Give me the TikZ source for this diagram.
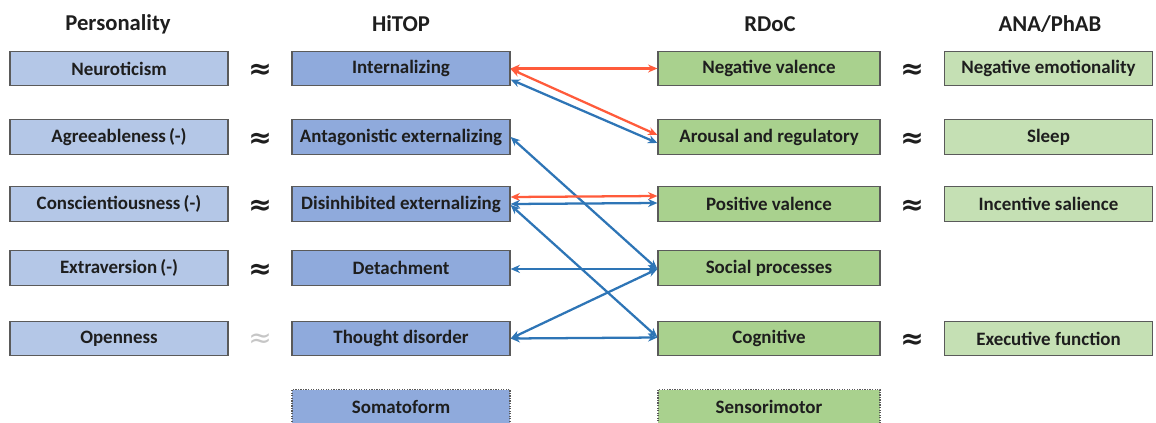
\documentclass[tikz,border=0pt]{standalone}
\usepackage{fontspec}
\setmainfont{Carlito}
\newfontfamily\symfont{DejaVu Sans}
\usetikzlibrary{arrows.meta}
\definecolor{pcol}{HTML}{B4C7E7}
\definecolor{hcol}{HTML}{8FAADC}
\definecolor{rcol}{HTML}{A9D18E}
\definecolor{acol}{HTML}{C5E0B4}
\definecolor{bordercol}{HTML}{5A5A5A}
\definecolor{bluearr}{HTML}{2E75B6}
\definecolor{redarr}{HTML}{FF5B3B}
\definecolor{txt}{HTML}{1E1E1E}
\tikzset{
  box/.style={draw=bordercol, line width=0.9pt, minimum height=26pt, inner sep=0pt, font=\fontsize{14.2}{16}\selectfont\bfseries, text=txt},
  pbox/.style={box, fill=pcol, minimum width=163.5pt},
  hbox/.style={box, fill=hcol, minimum width=163.5pt},
  rbox/.style={box, fill=rcol, minimum width=166.5pt},
  abox/.style={box, fill=acol, minimum width=156.5pt},
  dotbox/.style={draw=bordercol, densely dotted, line width=0.9pt},
  header/.style={font=\fontsize{17}{20}\selectfont\bfseries, text=txt},
  approx/.style={font=\symfont\fontsize{21}{24}\selectfont\bfseries, text=txt},
  barr/.style={draw=bluearr, line width=1.7pt, {Stealth[length=7pt,width=6pt]}-{Stealth[length=7pt,width=6pt]}},
  rarr/.style={draw=redarr, line width=1.7pt, {Stealth[length=7pt,width=6pt]}-{Stealth[length=7pt,width=6pt]}}
}
\begin{document}
\begin{tikzpicture}[x=0.75pt,y=-0.75pt]
\useasboundingbox (0,0) rectangle (1156,422);
% headers
\node[header] (hp) at (118,24) {Personality};
\node[header] (hh) at (401,24) {HiTOP};
\node[header] (hr) at (770,24) {RDoC};
\node[header] (ha) at (1050,24) {ANA/PhAB};
% personality
\node[pbox] (neu) at (119,68.5) {Neuroticism};
\node[pbox] (agr) at (119,137) {Agreeableness\,(-)};
\node[pbox] (con) at (119,204) {Conscientiousness\,(-)};
\node[pbox] (ext) at (119,268) {Extraversion\,(-)};
\node[pbox] (ope) at (119,338.5) {Openness};
% hitop
\node[hbox] (int) at (401,68.5) {Internalizing};
\node[hbox] (ant) at (401,137) {Antagonistic externalizing};
\node[hbox] (dis) at (401,204) {Disinhibited externalizing};
\node[hbox] (det) at (401,268) {Detachment};
\node[hbox] (tho) at (401,338.5) {Thought disorder};
\node[hbox, dotbox] (som) at (401,407) {Somatoform};
% rdoc
\node[rbox] (neg) at (769,68.5) {Negative valence};
\node[rbox] (aro) at (769,137) {Arousal and regulatory};
\node[rbox] (pos) at (769,204) {Positive valence};
\node[rbox] (soc) at (769,268) {Social processes};
\node[rbox] (cog) at (769,338.5) {Cognitive};
\node[rbox, dotbox] (sen) at (769,407) {Sensorimotor};
% ana
\node[abox] (nem) at (1048.5,68.5) {Negative emotionality};
\node[abox] (sle) at (1048.5,137) {Sleep};
\node[abox] (inc) at (1048.5,204) {Incentive salience};
\node[abox] (exe) at (1048.5,338.5) {Executive function};
% approx signs
\node[approx] (ap1) at (260,71) {≈};
\node[approx] (ap2) at (260,140) {≈};
\node[approx] (ap3) at (260,207) {≈};
\node[approx] (ap4) at (260,271) {≈};
\node[approx, text=gray!45, font=\symfont\fontsize{21}{24}\selectfont] (ap5) at (260,341) {≈};
\node[approx] (ap6) at (912,71) {≈};
\node[approx] (ap7) at (912,140) {≈};
\node[approx] (ap8) at (912,207) {≈};
\node[approx] (ap9) at (912,341) {≈};
% arrows
\draw[rarr] (int.east) -- (neg.west);
\draw[rarr] ([yshift=-0.4pt]int.east) -- ([yshift=1.5pt]aro.west);
\draw[barr] ([yshift=-8.25pt]int.east) -- ([yshift=-4.5pt]aro.west);
\draw[barr] (ant.east) -- ([yshift=-0.75pt]soc.west);
\draw[rarr] ([yshift=5.25pt]dis.east) -- ([yshift=6pt]pos.west);
\draw[barr] (dis.east) -- ([yshift=0.75pt]pos.west);
\draw[barr] ([yshift=-0.75pt]dis.east) -- ([yshift=1pt]cog.west);
\draw[barr] ([yshift=-0.75pt]det.east) -- ([yshift=-0.75pt]soc.west);
\draw[barr] (tho.east) -- ([yshift=-0.75pt]soc.west);
\draw[barr] (tho.east) -- ([yshift=0.75pt]cog.west);
\end{tikzpicture}
\end{document}
